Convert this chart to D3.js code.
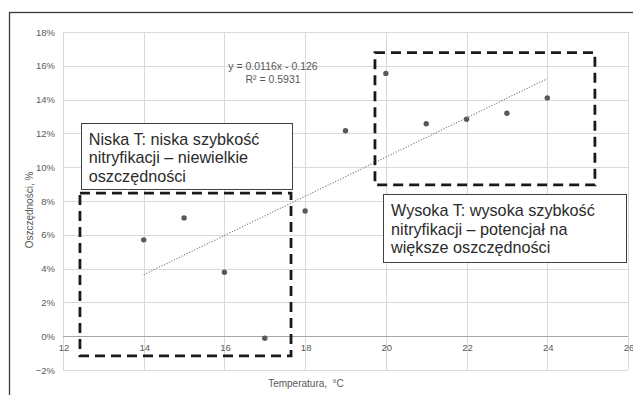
<!DOCTYPE html>
<html>
<head>
<meta charset="utf-8">
<script src="https://cdn.jsdelivr.net/npm/d3@7"></script>
<style>
  html, body { margin: 0; padding: 0; background: #fff; }
  svg { display: block; font-family: "Liberation Sans", Arial, sans-serif; }
</style>
</head>
<body>
<svg id="chart" width="633" height="395"></svg>
<script>
// Temperature (°C) and savings (fraction)
const temperatures = [14, 15, 16, 17, 18, 19, 20, 21, 22, 23, 24];
const savings = [0.057, 0.070, 0.0378, -0.0012, 0.0741, 0.1216, 0.1555, 0.1257, 0.1284, 0.1319, 0.141];

// Linear trend: y = 0.0116x - 0.126
const trendSlope = 0.0116;
const trendIntercept = -0.126;
const trendLabel = ["y = 0.0116x - 0.126", "R² = 0.5931"];

const xTicks = [12, 14, 16, 18, 20, 22, 24, 26];
const yTicks = [-0.02, 0, 0.02, 0.04, 0.06, 0.08, 0.10, 0.12, 0.14, 0.16, 0.18];

// Dashed region boxes [x0, x1, y0, y1] in data units
const regions = [
  [12.42, 17.65, -0.0117, 0.0847],
  [19.73, 25.18, 0.0895, 0.1678]
];

// Callout boxes: [x0, x1, yTop, yBottom] and their lines
const callouts = [
  { box: [12.44, 17.68, 0.1262, 0.0872], lines: ["Niska T: niska szybkość", "nitryfikacji – niewielkie", "oszczędności"] },
  { box: [19.93, 25.95, 0.0841, 0.0439], lines: ["Wysoka T: wysoka szybkość", "nitryfikacji – potencjał na", "większe oszczędności"] }
];

const svg = d3.select("#chart");
const plotLeft = 63, plotRight = 628, plotTop = 32, plotBottom = 370;

const x = d3.scaleLinear().domain([12, 26]).range([plotLeft, plotRight]);
const y = d3.scaleLinear().domain([-0.02, 0.18]).range([plotBottom, plotTop]);

// outer frame
svg.append("rect").attr("x", 9.5).attr("y", 12.5).attr("width", 700).attr("height", 500)
  .attr("fill", "none").attr("stroke", "#3a3a3a").attr("stroke-width", 1.3);

// gridlines
svg.append("g").selectAll("line").data(yTicks).join("line")
  .attr("x1", plotLeft).attr("x2", plotRight)
  .attr("y1", d => Math.round(y(d)) + 0.5).attr("y2", d => Math.round(y(d)) + 0.5)
  .attr("stroke", "#d9d9d9").attr("stroke-width", 1);
svg.append("g").selectAll("line").data(xTicks).join("line")
  .attr("y1", plotTop).attr("y2", plotBottom)
  .attr("x1", d => Math.round(x(d)) + 0.5).attr("x2", d => Math.round(x(d)) + 0.5)
  .attr("stroke", "#d9d9d9").attr("stroke-width", 1);
// zero axis line on top
svg.append("line").attr("x1", plotLeft).attr("x2", plotRight)
  .attr("y1", Math.round(y(0)) + 0.5).attr("y2", Math.round(y(0)) + 0.5)
  .attr("stroke", "#a6a6a6");

// y tick labels
const pct = d3.format(".0%");
svg.append("g").selectAll("text").data(yTicks).join("text")
  .attr("x", 55).attr("y", d => y(d) + 3.5)
  .attr("text-anchor", "end").attr("font-size", 9.5).attr("fill", "#595959")
  .text(d => pct(d));

// x tick labels next to the zero line
svg.append("g").selectAll("text").data(xTicks).join("text")
  .attr("x", d => x(d) + 1).attr("y", y(0) + 15)
  .attr("text-anchor", "middle").attr("font-size", 9.5).attr("fill", "#595959")
  .text(d => d);

// axis titles
svg.append("text").attr("x", 306).attr("y", 387)
  .attr("text-anchor", "middle").attr("font-size", 10).attr("fill", "#595959")
  .style("white-space", "pre")
  .text("Temperatura,  °C");
svg.append("text").attr("transform", "translate(33,210) rotate(-90)")
  .attr("text-anchor", "middle").attr("font-size", 10).attr("fill", "#595959")
  .text("Oszczędności, %");

// trend line
const tx0 = d3.min(temperatures), tx1 = d3.max(temperatures);
svg.append("line")
  .attr("x1", x(tx0)).attr("y1", y(trendSlope * tx0 + trendIntercept))
  .attr("x2", x(tx1)).attr("y2", y(trendSlope * tx1 + trendIntercept))
  .attr("stroke", "#7f7f7f").attr("stroke-width", 1.1).attr("stroke-dasharray", "1.2,1.6");

// trend equation
svg.append("g").selectAll("text").data(trendLabel).join("text")
  .attr("x", 273).attr("y", (d, i) => 70 + i * 13)
  .attr("text-anchor", "middle").attr("font-size", 10.5).attr("fill", "#595959")
  .text(d => d);

// points
svg.append("g").selectAll("circle").data(temperatures).join("circle")
  .attr("cx", d => x(d)).attr("cy", (d, i) => y(savings[i]))
  .attr("r", 2.7).attr("fill", "#595959");

// dashed regions
svg.append("g").selectAll("rect").data(regions).join("rect")
  .attr("x", d => x(d[0])).attr("y", d => y(d[3]))
  .attr("width", d => x(d[1]) - x(d[0])).attr("height", d => y(d[2]) - y(d[3]))
  .attr("fill", "none").attr("stroke", "#1a1a1a").attr("stroke-width", 2.8)
  .attr("stroke-dasharray", "10,6");

// callouts
const cg = svg.append("g").selectAll("g").data(callouts).join("g");
cg.append("rect")
  .attr("x", d => Math.round(x(d.box[0])) + 0.5).attr("y", d => Math.round(y(d.box[2])) + 0.5)
  .attr("width", d => Math.round(x(d.box[1]) - x(d.box[0])))
  .attr("height", d => Math.round(y(d.box[3]) - y(d.box[2])))
  .attr("fill", "#fff").attr("stroke", "#404040").attr("stroke-width", 1);
cg.each(function (d) {
  d3.select(this).selectAll("text").data(d.lines).join("text")
    .attr("x", x(d.box[0]) + 8).attr("y", (t, i) => y(d.box[2]) + 22 + i * 18.5)
    .attr("font-size", 16.2).attr("fill", "#2b2b2b")
    .text(t => t);
});
</script>
</body>
</html>
